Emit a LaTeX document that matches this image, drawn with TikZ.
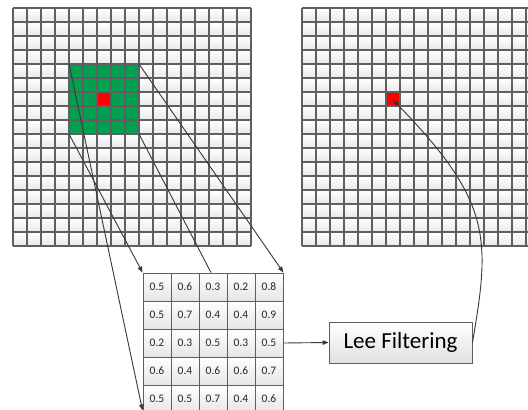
\documentclass[tikz,border=0pt]{standalone}
\usepackage{fontspec}
\setmainfont{Carlito}
\usetikzlibrary{arrows.meta,calc}
\definecolor{gridc}{RGB}{95,95,95}
\definecolor{cellgreen}{RGB}{0,160,80}
\definecolor{connc}{RGB}{55,55,55}
\begin{document}
\begin{tikzpicture}[x=1pt,y=-1pt,
  conn/.style={draw=connc, line width=0.9pt},
  arr/.style={conn, -{Triangle[length=6pt,width=4.5pt]}},
  cellshade/.style={top color=white, bottom color=black!9},
  mcell/.style={draw=gridc, line width=0.9pt, top color=white, bottom color=black!10,
    minimum width=28pt, minimum height=28pt, inner sep=0pt,
    font=\fontsize{11.5}{13}\selectfont, text=black!85},
  leebox/.style={draw=gridc, line width=0.9pt, top color=white, bottom color=black!12,
    minimum width=143pt, minimum height=41pt, inner sep=0pt,
    font=\fontsize{23}{27}\selectfont},
  gline/.style={draw=gridc, line width=1.5pt}
  ]
\useasboundingbox (0,0) rectangle (528,410);
\def\cw{14}\def\ch{14}
% cell shading
\foreach \i in {0,...,16}{\foreach \j in {0,...,16}{
  \shade[cellshade] ({13+\i*\cw},{8+\j*\ch}) rectangle ++(\cw,\ch);
  \shade[cellshade] ({302+\i*\cw},{8+\j*\ch}) rectangle ++(\cw,\ch);
}}
% green window and red cells
\fill[cellgreen] ({13+4*\cw},{8+4*\ch}) rectangle ({13+9*\cw},{8+9*\ch});
\fill[red] ({13+6*\cw},{8+6*\ch}) rectangle ++(\cw,\ch);
\fill[red] ({302+6*\cw},{8+6*\ch}) rectangle ++(\cw,\ch);
% grid lines
\foreach \k in {0,...,17}{
  \draw[gline] ({13+\k*\cw},8) -- ({13+\k*\cw},{8+17*\ch});
  \draw[gline] (13,{8+\k*\ch}) -- ({13+17*\cw},{8+\k*\ch});
  \draw[gline] ({302+\k*\cw},8) -- ({302+\k*\cw},{8+17*\ch});
  \draw[gline] (302,{8+\k*\ch}) -- ({302+17*\cw},{8+\k*\ch});
}
% corner coordinates of the window
\coordinate (gTL) at ({13+4*\cw},{8+4*\ch});
\coordinate (gTR) at ({13+9*\cw},{8+4*\ch});
\coordinate (gBL) at ({13+4*\cw},{8+9*\ch});
\coordinate (gBR) at ({13+9*\cw},{8+9*\ch});
\coordinate (rc) at (393,100);
% matrix
\foreach \vals [count=\r] in {{0.5,0.6,0.3,0.2,0.8},{0.5,0.7,0.4,0.4,0.9},{0.2,0.3,0.5,0.3,0.5},{0.6,0.4,0.6,0.6,0.7},{0.5,0.5,0.7,0.4,0.6}}{
  \foreach \v [count=\c] in \vals {
    \node[mcell] (m\r\c) at ({157+28*(\c-1)},{287+28*(\r-1)}) {\v};
  }
}
\coordinate (mBL) at ($(m51.south west)+(0,-3)$);
\coordinate (mTop) at ($(m13.north west)!0.43!(m13.north east)$);
% Lee box
\node[leebox] (lee) at (400.5,342.5) {Lee Filtering};
% connectors
\draw[arr] (gTL) -- (mBL);
\draw[arr] (gBL) -- (m11.north west);
\draw[arr] (gTR) -- (m15.north east);
\draw[conn] (gBR) -- (mTop);
\draw[arr] (m35.east) -- (lee.west);
\draw[arr] (lee.east) .. controls (490,240) and (493,202) .. (rc);
\end{tikzpicture}
\end{document}
